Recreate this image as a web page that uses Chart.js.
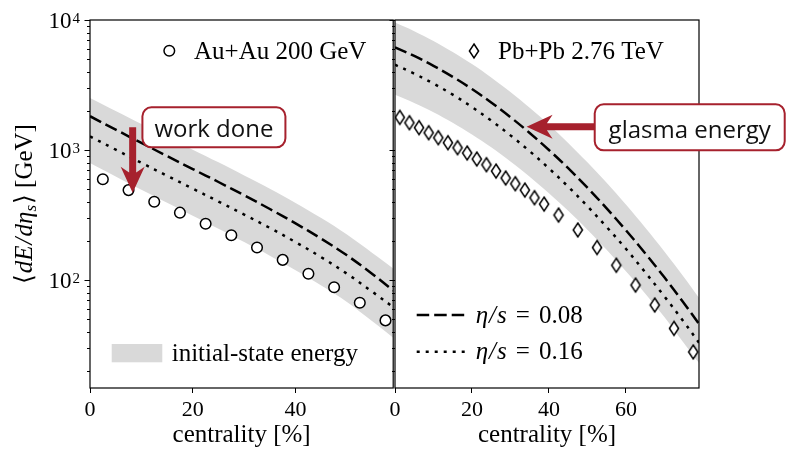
<!DOCTYPE html>
<html>
<head>
<meta charset="utf-8">
<script src="https://cdn.jsdelivr.net/npm/chart.js@4.4.1/dist/chart.umd.min.js"></script>
<style>
  html, body { margin: 0; padding: 0; background: #fff; }
  #wrap { position: relative; width: 786px; height: 450px; overflow: hidden; }
  #auChart { position: absolute; left: 0; top: 0; }
  #pbChart { position: absolute; left: 385px; top: 0; }
</style>
</head>
<body>
<div id="wrap">
  <canvas id="auChart" width="400" height="450"></canvas>
  <canvas id="pbChart" width="401" height="450"></canvas>
</div>
<script>
// Au+Au 200 GeV (RHIC) measured points
const auCentrality = [2.5, 7.5, 12.5, 17.5, 22.5, 27.5, 32.5, 37.5, 42.5, 47.5, 52.5, 57.5];
const auMeasured = [596, 492, 400, 330, 271, 221, 178, 143, 112, 88, 67, 49];
// Au+Au model curves
const auModelX = [0, 5, 10, 15, 20, 25, 30, 35, 40, 45, 50, 55, 59];
const auEtaS008 = [1820, 1435, 1135, 899, 714, 568, 449, 352, 273, 208, 155, 111, 83];
const auEtaS016 = [1274, 1007, 798, 634, 505, 402, 319, 252, 196, 150, 112, 81, 62];
const auInitHigh = [2512, 1995, 1585, 1262, 1007, 804, 638, 504, 392, 300, 224, 161, 123];
const auInitLow = [794, 627, 495, 393, 312, 248, 196, 154, 119, 91, 68, 48, 36];

// Pb+Pb 2.76 TeV (LHC) measured points
const pbCentrality = [1.25, 3.75, 6.25, 8.75, 11.25, 13.75, 16.25, 18.75, 21.25, 23.75, 26.25, 28.75,
  31.25, 33.75, 36.25, 38.75, 42.5, 47.5, 52.5, 57.5, 62.5, 67.5, 72.5, 77.5];
const pbMeasured = [1783, 1623, 1486, 1359, 1244, 1138, 1042, 949, 853, 771, 689, 609,
  551, 492, 430, 384, 316, 243, 178, 130, 91.5, 64.3, 42.5, 28];
// Pb+Pb model curves
const pbModelX = [0, 5, 10, 15, 20, 25, 30, 35, 40, 45, 50, 55, 60, 65, 70, 75, 79];
const pbEtaS008 = [6166, 5291, 4446, 3656, 2944, 2321, 1791, 1353, 1001, 725, 514, 356, 242, 161, 105, 67, 46];
const pbEtaS016 = [4530, 3869, 3243, 2667, 2143, 1685, 1297, 980, 723, 523, 370, 256, 174, 115, 75, 48, 33];
const pbInitHigh = [9550, 8204, 6902, 5675, 4581, 3614, 2793, 2113, 1567, 1135, 805, 560, 381, 254, 166, 106, 73];
const pbInitLow = [2661, 2305, 1954, 1622, 1318, 1051, 818, 624, 466, 341, 244, 171, 117, 79, 52, 33, 23];

const auXTicks = [0, 20, 40];
const pbXTicks = [0, 20, 40, 60];
const yDecades = [2, 3, 4];

const SERIF = '"Liberation Serif", "DejaVu Serif", serif';
const SANS = '"Open Sans", "DejaVu Sans", sans-serif';
const RED = '#a6212d';
const BAND = '#d9d9d9';
const DASH = [12.5, 5];
const DOT = [3, 6];

const pts = (xs, ys) => xs.map((x, i) => ({ x: x, y: ys[i] }));

// narrow diamond marker used for the Pb+Pb points
function diamondMarker() {
  const c = document.createElement('canvas');
  c.width = 14; c.height = 18;
  const g = c.getContext('2d');
  g.beginPath();
  g.moveTo(7, 2); g.lineTo(11.6, 9); g.lineTo(7, 16); g.lineTo(2.4, 9); g.closePath();
  g.fillStyle = '#fff'; g.fill();
  g.lineWidth = 1.5; g.strokeStyle = '#000'; g.stroke();
  return c;
}

function datasets(x, meas, mx, a, b, hi, lo, marker) {
  const curve = { pointRadius: 0, tension: 0.35 };
  return [
    {
      data: pts(x, meas), showLine: false,
      pointStyle: marker, pointRadius: marker === 'circle' ? 5.3 : 7,
      pointBorderWidth: 1.5, pointBorderColor: '#000', pointBackgroundColor: '#fff'
    },
    { ...curve, data: pts(mx, a), borderColor: '#000', borderWidth: 2.5, borderDash: DASH },
    { ...curve, data: pts(mx, b), borderColor: '#000', borderWidth: 2.5, borderDash: DOT },
    { ...curve, data: pts(mx, hi), borderWidth: 0, fill: '+1', backgroundColor: BAND },
    { ...curve, data: pts(mx, lo), borderWidth: 0, fill: false }
  ];
}

function scales(xMax, xTicks, yWidth) {
  return {
    x: {
      type: 'linear', min: 0, max: xMax,
      afterBuildTicks: s => { s.ticks = xTicks.map(v => ({ value: v })); },
      afterFit: s => { s.height = 62; },
      ticks: { color: '#000', font: { family: SERIF, size: 22 }, padding: 4, maxRotation: 0 },
      grid: { drawOnChartArea: false, drawTicks: true, tickLength: 5, color: '#000', lineWidth: 1 },
      border: { display: false },
      title: { display: true, text: 'centrality [%]', color: '#000', font: { family: SERIF, size: 25 }, padding: { top: 0, bottom: 0 } }
    },
    y: {
      type: 'logarithmic', min: 14.8, max: 10000,
      afterFit: s => { s.width = yWidth; },
      ticks: { display: false },
      grid: { display: false },
      border: { display: false }
    }
  };
}

// draw a row of text pieces with their own fonts, left to right
function runs(ctx, parts, x, y) {
  let cx = x;
  parts.forEach(p => {
    ctx.font = p.font;
    ctx.fillText(p.t, cx, y + (p.dy || 0));
    cx += ctx.measureText(p.t).width + (p.gap || 0);
  });
  return cx - x;
}
function runsWidth(ctx, parts) {
  let w = 0;
  parts.forEach(p => { ctx.font = p.font; w += ctx.measureText(p.t).width + (p.gap || 0); });
  return w;
}

function frameAndTicks(chart) {
  const { ctx, chartArea: a, scales: { y } } = chart;
  ctx.save();
  ctx.strokeStyle = '#000';
  ctx.lineWidth = 1.2;
  ctx.strokeRect(a.left, a.top, a.right - a.left, a.bottom - a.top);
  ctx.lineWidth = 1;
  for (let e = 1; e <= 4; e++) {
    for (let m = 1; m <= 9; m++) {
      const v = m * Math.pow(10, e);
      if (v < y.min || v > y.max) continue;
      const py = Math.round(y.getPixelForValue(v)) + 0.5;
      const len = m === 1 ? 5.5 : 3;
      ctx.beginPath();
      ctx.moveTo(a.left - len, py);
      ctx.lineTo(a.left, py);
      ctx.stroke();
    }
  }
  ctx.restore();
}

function roundBox(ctx, x, y, w, h, r) {
  ctx.beginPath();
  ctx.moveTo(x + r, y);
  ctx.arcTo(x + w, y, x + w, y + h, r);
  ctx.arcTo(x + w, y + h, x, y + h, r);
  ctx.arcTo(x, y + h, x, y, r);
  ctx.arcTo(x, y, x + w, y, r);
  ctx.closePath();
}

function arrow(ctx, x0, y0, x1, y1) {
  const ang = Math.atan2(y1 - y0, x1 - x0);
  const len = Math.hypot(x1 - x0, y1 - y0);
  const shaft = 7, head = 26, half = 12;
  ctx.save();
  ctx.translate(x1, y1);
  ctx.rotate(ang);
  ctx.beginPath();
  ctx.moveTo(0, 0);
  ctx.lineTo(-head, -half);
  ctx.lineTo(-head * 0.78, -shaft / 2);
  ctx.lineTo(-len, -shaft / 2);
  ctx.lineTo(-len, shaft / 2);
  ctx.lineTo(-head * 0.78, shaft / 2);
  ctx.lineTo(-head, half);
  ctx.closePath();
  ctx.fillStyle = RED;
  ctx.fill();
  ctx.restore();
}

function callout(ctx, bx, by, w, h, text) {
  ctx.save();
  roundBox(ctx, bx, by, w, h, 9);
  ctx.fillStyle = '#fff';
  ctx.fill();
  ctx.lineWidth = 2;
  ctx.strokeStyle = RED;
  ctx.stroke();
  ctx.fillStyle = '#111';
  ctx.font = '24px ' + SANS;
  ctx.textAlign = 'center';
  ctx.textBaseline = 'alphabetic';
  ctx.fillText(text, bx + w / 2, by + h * 0.74);
  ctx.restore();
}

function etaLegend(ctx, x, y, dash, value) {
  ctx.save();
  ctx.strokeStyle = '#000';
  ctx.lineWidth = 2.5;
  ctx.setLineDash(dash);
  ctx.beginPath();
  ctx.moveTo(x, y);
  ctx.lineTo(x + 48, y);
  ctx.stroke();
  ctx.setLineDash([]);
  ctx.fillStyle = '#000';
  ctx.textBaseline = 'middle';
  runs(ctx, [
    { t: 'η', font: 'italic 25px ' + SERIF, gap: 1 },
    { t: '/', font: 'italic 25px ' + SERIF, gap: 1 },
    { t: 's', font: 'italic 25px ' + SERIF, gap: 9 },
    { t: '=', font: '25px ' + SERIF, gap: 9 },
    { t: value, font: '25px ' + SERIF }
  ], x + 59, y + 1);
  ctx.restore();
}

const auDecor = {
  id: 'auDecor',
  afterDraw(chart) {
    const { ctx, chartArea: a, scales: { x, y } } = chart;
    frameAndTicks(chart);
    ctx.save();
    ctx.fillStyle = '#000';

    // decade labels 10^n on the y axis
    yDecades.forEach(e => {
      const py = y.getPixelForValue(Math.pow(10, e));
      ctx.textBaseline = 'alphabetic';
      ctx.textAlign = 'right';
      ctx.font = '23px ' + SERIF;
      ctx.fillText('10', a.left - 18.5, py + 8);
      ctx.textAlign = 'left';
      ctx.font = '15px ' + SERIF;
      ctx.fillText(String(e), a.left - 17.5, py + 3);
    });

    // rotated y axis title
    const title = [
      { t: '⟨', font: '25px ' + SERIF, gap: 1 },
      { t: 'dE', font: 'italic 25px ' + SERIF, gap: 1 },
      { t: '/', font: 'italic 25px ' + SERIF, gap: 1 },
      { t: 'dη', font: 'italic 25px ' + SERIF },
      { t: 's', font: 'italic 17px ' + SERIF, dy: 4, gap: 1 },
      { t: '⟩ [GeV]', font: '25px ' + SERIF }
    ];
    ctx.save();
    ctx.translate(32, (a.top + a.bottom) / 2);
    ctx.rotate(-Math.PI / 2);
    ctx.textAlign = 'left';
    ctx.textBaseline = 'alphabetic';
    const tw = runsWidth(ctx, title);
    runs(ctx, title, -tw / 2, 0);
    ctx.restore();

    // data legend
    ctx.beginPath();
    ctx.arc(a.left + 79.3, a.top + 30.7, 5.3, 0, Math.PI * 2);
    ctx.lineWidth = 1.5;
    ctx.strokeStyle = '#000';
    ctx.stroke();
    ctx.font = '25px ' + SERIF;
    ctx.textAlign = 'left';
    ctx.textBaseline = 'middle';
    ctx.fillText('Au+Au 200 GeV', a.left + 104, a.top + 32);

    // band legend
    ctx.fillStyle = BAND;
    ctx.fillRect(a.left + 21.7, a.top + 324, 50.6, 18.3);
    ctx.fillStyle = '#000';
    ctx.fillText('initial-state energy', a.left + 81.7, a.top + 334);

    // "work done" callout
    arrow(ctx, x.getPixelForValue(8.3), y.getPixelForValue(1500), x.getPixelForValue(8.3), y.getPixelForValue(470));
    callout(ctx, x.getPixelForValue(10.2), y.getPixelForValue(2130), 143, 40, 'work done');
    ctx.restore();
  }
};

const pbDecor = {
  id: 'pbDecor',
  afterDraw(chart) {
    const { ctx, chartArea: a, scales: { x, y } } = chart;
    frameAndTicks(chart);
    ctx.save();
    ctx.fillStyle = '#000';

    ctx.drawImage(diamond, a.left + 79 - 7, a.top + 31 - 9);
    ctx.font = '25px ' + SERIF;
    ctx.textAlign = 'left';
    ctx.textBaseline = 'middle';
    ctx.fillText('Pb+Pb 2.76 TeV', a.left + 103, a.top + 32);

    etaLegend(ctx, a.left + 21.7, a.top + 295, DASH, '0.08');
    etaLegend(ctx, a.left + 21.7, a.top + 331.7, DOT, '0.16');

    // "glasma energy" callout
    const bx = x.getPixelForValue(51.9), by = y.getPixelForValue(2246);
    arrow(ctx, bx + 2, y.getPixelForValue(1510), x.getPixelForValue(34.2), y.getPixelForValue(1510));
    callout(ctx, bx, by, 190, 46, 'glasma energy');
    ctx.restore();
  }
};

const diamond = diamondMarker();

function makeChart(id, sets, xMax, xTicks, yWidth, padRight, decor) {
  return new Chart(document.getElementById(id), {
    type: 'line',
    data: { datasets: sets },
    options: {
      responsive: false,
      animation: false,
      devicePixelRatio: 1,
      events: [],
      layout: { padding: { left: 0, right: padRight, top: 20, bottom: 0 } },
      plugins: { legend: { display: false }, tooltip: { enabled: false } },
      scales: scales(xMax, xTicks, yWidth)
    },
    plugins: [decor]
  });
}

makeChart('auChart',
  datasets(auCentrality, auMeasured, auModelX, auEtaS008, auEtaS016, auInitHigh, auInitLow, 'circle'),
  59, auXTicks, 90, 5, auDecor);
makeChart('pbChart',
  datasets(pbCentrality, pbMeasured, pbModelX, pbEtaS008, pbEtaS016, pbInitHigh, pbInitLow, diamond),
  79, pbXTicks, 10, 87, pbDecor);
</script>
</body>
</html>
